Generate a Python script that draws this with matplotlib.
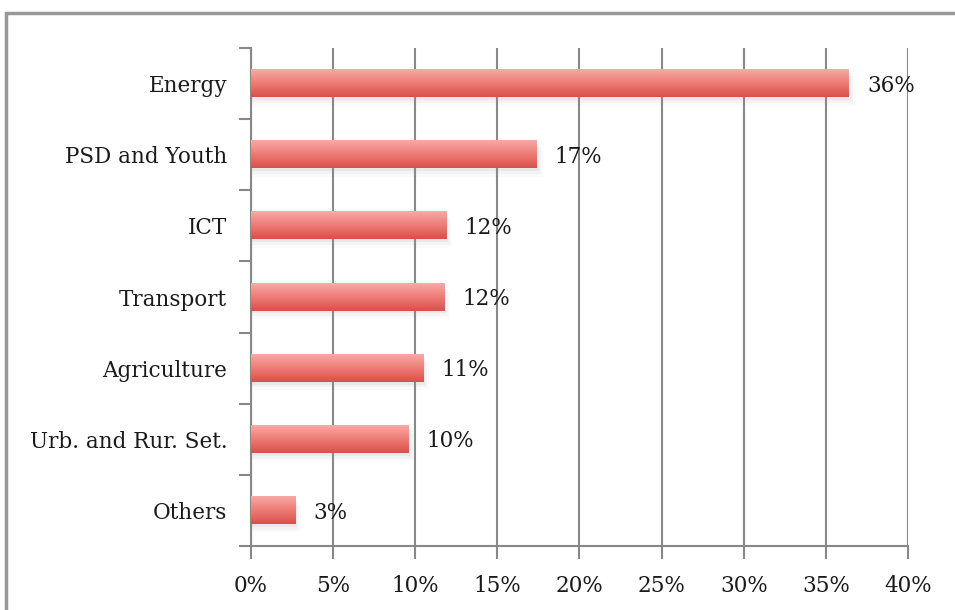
import numpy as np
import matplotlib.pyplot as plt
from matplotlib.patches import Rectangle
from matplotlib.colors import LinearSegmentedColormap

sectors = ['Energy', 'PSD and Youth', 'ICT', 'Transport', 'Agriculture',
           'Urb. and Rur. Set.', 'Others']
shares = [36.4, 17.4, 11.9, 11.75, 10.5, 9.6, 2.7]
labels = ['36%', '17%', '12%', '12%', '11%', '10%', '3%']

plt.rcParams['font.family'] = ['DejaVu Serif']

fig = plt.figure(figsize=(9.55, 6.10), dpi=100)
ax = fig.add_axes([0.2628, 0.1049, 0.688, 0.8164])

y = np.arange(len(sectors))[::-1]
grad = LinearSegmentedColormap.from_list('bar', ['#f7aaa6', '#ee7b75', '#d9514b'])

bars = ax.barh(y, shares, height=0.38, color='none', zorder=3)
for b in bars:
    x0, y0, w, h = b.get_x(), b.get_y(), b.get_width(), b.get_height()
    # soft shadow under the bar
    for k, a in enumerate([0.10, 0.07, 0.04]):
        ax.add_patch(Rectangle((x0, y0 - 0.04 * (k + 1)), w + 0.12 * (k + 1), h,
                               facecolor='#999999', alpha=a, lw=0, zorder=2))
    img = np.linspace(0, 1, 50).reshape(-1, 1)
    ax.imshow(img, cmap=grad, aspect='auto', extent=(x0, x0 + w, y0, y0 + h),
              origin='upper', zorder=3)

for yi, v, t in zip(y, shares, labels):
    ax.text(v + 1.1, yi - 0.03, t, va='center', ha='left', fontsize=15.5,
            color='#1a1a1a', zorder=4)

ax.set_xlim(0, 40)
ax.set_ylim(-0.5, 6.5)
ax.set_xticks(np.arange(0, 41, 5))
ax.set_xticklabels([f'{v}%' for v in range(0, 41, 5)])
ax.set_yticks(y)
ax.set_yticklabels(sectors)
ax.set_yticks(np.arange(-0.5, 7, 1), minor=True)
ax.tick_params(axis='y', which='major', length=0, pad=17, labelsize=15.5, labelcolor='#1a1a1a')
ax.tick_params(axis='y', which='minor', length=9, width=1.5, color='#888888')
ax.tick_params(axis='x', length=9, width=1.5, color='#888888', pad=12,
               labelsize=15.5, labelcolor='#1a1a1a')
ax.grid(axis='x', color='#888888', lw=1.5, zorder=1)
ax.set_axisbelow(True)
for s in ['top', 'right']:
    ax.spines[s].set_visible(False)
for s in ['left', 'bottom']:
    ax.spines[s].set_color('#888888')
    ax.spines[s].set_linewidth(1.5)

# outer chart frame
fig.patches.append(Rectangle((0.006, -0.05), 1.1, 1.029, transform=fig.transFigure,
                             facecolor='none', edgecolor='#999999', lw=2.5))

fig.savefig('out.png', dpi=100)
